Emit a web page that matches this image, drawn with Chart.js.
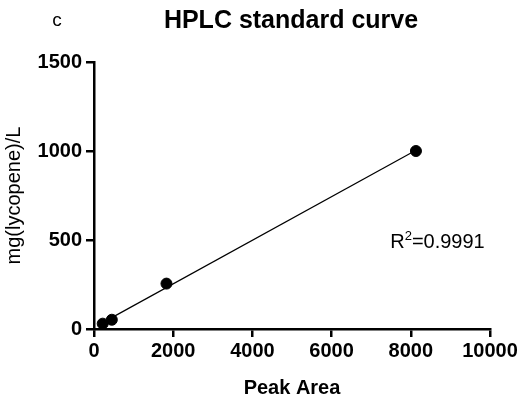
<!DOCTYPE html>
<html>
<head>
<meta charset="utf-8">
<script src="https://cdn.jsdelivr.net/npm/chart.js@4"></script>
<style>
  html, body { margin: 0; padding: 0; background: #fff; }
  canvas { display: block; }
</style>
</head>
<body>
<canvas id="chart" width="532" height="404"></canvas>
<script>
// standard points
const peakArea = [220, 450, 1830, 8130];
const lycopene = [30, 52, 255, 1000];

const xTicks = [0, 2000, 4000, 6000, 8000, 10000];
const yTicks = [0, 500, 1000, 1500];

const rSquared = '0.9991';
const rLabelAt = [7480, 455];

// least squares fit for the standard curve
function fitLine(xs, ys) {
    const n = xs.length;
    const mx = xs.reduce((a, b) => a + b, 0) / n;
    const my = ys.reduce((a, b) => a + b, 0) / n;
    let sxy = 0, sxx = 0;
    xs.forEach((x, i) => {
        sxy += (x - mx) * (ys[i] - my);
        sxx += (x - mx) * (x - mx);
    });
    const slope = sxy / sxx;
    return { slope, intercept: my - slope * mx };
}

const fit = fitLine(peakArea, lycopene);
const xMin = Math.min(...peakArea);
const xMax = Math.max(...peakArea);
const fitPoints = [xMin, xMax].map(x => ({ x, y: fit.intercept + fit.slope * x }));

const FONT = '"Liberation Sans", Arial, sans-serif';

const textPlugin = {
    id: 'texts',
    afterDraw(chart) {
        const ctx = chart.ctx;
        const xs = chart.scales.x, ys = chart.scales.y;
        ctx.save();
        ctx.fillStyle = '#000';
        ctx.textBaseline = 'middle';
        ctx.textAlign = 'center';
        ctx.font = 'bold 25px ' + FONT;
        ctx.fillText('HPLC standard curve', 291, 21);
        ctx.font = '19px ' + FONT;
        ctx.fillText('c', 57, 21);

        // R² label
        ctx.textAlign = 'left';
        ctx.textBaseline = 'alphabetic';
        let px = xs.getPixelForValue(rLabelAt[0]);
        const py = ys.getPixelForValue(rLabelAt[1]);
        ctx.font = '20px ' + FONT;
        ctx.fillText('R', px, py);
        px += ctx.measureText('R').width;
        ctx.font = '13px ' + FONT;
        ctx.fillText('2', px, py - 8);
        px += ctx.measureText('2').width;
        ctx.font = '20px ' + FONT;
        ctx.fillText('=' + rSquared, px, py);
        ctx.restore();
    }
};

const axisGrid = {
    drawOnChartArea: false,
    drawTicks: true,
    tickLength: 8,
    tickColor: '#000',
    tickWidth: 2.5,
    color: '#000',
    lineWidth: 2.5
};

new Chart(document.getElementById('chart'), {
    type: 'scatter',
    data: {
        datasets: [
            {
                label: 'fit',
                type: 'line',
                data: fitPoints,
                borderColor: '#000',
                borderWidth: 1.2,
                pointRadius: 0,
                fill: false
            },
            {
                label: 'standards',
                data: peakArea.map((x, i) => ({ x, y: lycopene[i] })),
                backgroundColor: '#000',
                borderColor: '#000',
                pointRadius: 5.5,
                pointHoverRadius: 5.5
            }
        ]
    },
    options: {
        responsive: false,
        animation: false,
        events: [],
        layout: { padding: { top: 62, right: 42, left: 0, bottom: 0 } },
        plugins: {
            legend: { display: false },
            title: { display: false },
            tooltip: { enabled: false }
        },
        scales: {
            x: {
                type: 'linear',
                min: 0,
                max: 10000,
                afterBuildTicks: s => { s.ticks = xTicks.map(v => ({ value: v })); },
                afterFit: s => { s.height = 75; },
                grid: axisGrid,
                border: { display: true, color: '#000', width: 2.5 },
                ticks: {
                    color: '#000',
                    padding: 2,
                    maxRotation: 0,
                    callback: v => String(v),
                    font: { family: FONT, size: 20, weight: 'bold' }
                },
                title: {
                    display: true,
                    text: 'Peak Area',
                    color: '#000',
                    padding: { top: 4, bottom: 4 },
                    font: { family: FONT, size: 20, weight: 'bold' }
                }
            },
            y: {
                type: 'linear',
                min: 0,
                max: 1500,
                afterBuildTicks: s => { s.ticks = yTicks.map(v => ({ value: v })); },
                afterFit: s => { s.width = 94; },
                grid: axisGrid,
                border: { display: true, color: '#000', width: 2.5 },
                ticks: {
                    color: '#000',
                    padding: 4,
                    callback: v => String(v),
                    font: { family: FONT, size: 20, weight: 'bold' }
                },
                title: {
                    display: true,
                    text: 'mg(lycopene)/L',
                    color: '#000',
                    padding: { top: 2, bottom: 2 },
                    font: { family: FONT, size: 20 }
                }
            }
        }
    },
    plugins: [textPlugin]
});
</script>
</body>
</html>
